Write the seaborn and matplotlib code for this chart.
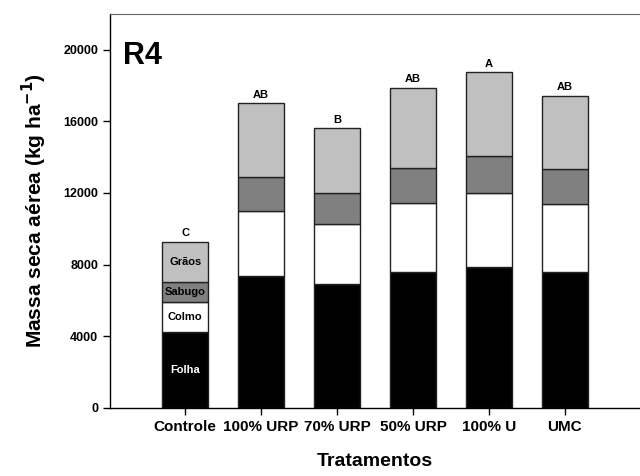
import numpy as np
import pandas as pd
import matplotlib
matplotlib.use("Agg")
import matplotlib.pyplot as plt
import seaborn as sns

# data (kg/ha, per plant fraction)
tratamentos = ["Controle", "100% URP", "70% URP", "50% URP", "100% U", "UMC"]
folha = [4260, 7340, 6930, 7600, 7890, 7600]
colmo = [1680, 3670, 3330, 3850, 4100, 3760]
sabugo = [1080, 1880, 1710, 1970, 2060, 1990]
graos = [2250, 4110, 3650, 4450, 4680, 4060]
letras = ["C", "AB", "B", "AB", "A", "AB"]

fracoes = ["Folha", "Colmo", "Sabugo", "Grãos"]
cores = ["#000000", "#ffffff", "#808080", "#c0c0c0"]
cor_texto = ["white", "black", "black", "black"]

df = pd.DataFrame({"Tratamento": tratamentos, "Folha": folha, "Colmo": colmo,
                   "Sabugo": sabugo, "Grãos": graos})

sns.set_style("ticks")
plt.rcParams["font.family"] = ["Liberation Sans", "DejaVu Sans"]
plt.rcParams["font.weight"] = "bold"
plt.rcParams.update({"text.color": "black", "axes.labelcolor": "black",
                     "xtick.color": "black", "ytick.color": "black"})

fig = plt.figure(figsize=(6.4, 4.76), dpi=100)
ax = fig.add_axes([0.172, 0.143, 0.828, 0.828])

base = np.zeros(len(tratamentos))
for nome, cor in zip(fracoes, cores):
    sns.barplot(data=df, x="Tratamento", y=nome, order=tratamentos, bottom=base,
                color=cor, width=0.6, edgecolor="#222222", linewidth=1.0,
                saturation=1, ax=ax)
    base = base + df[nome].to_numpy()

# fraction labels inside the Controle bar
base0 = 0
for nome, ct in zip(fracoes, cor_texto):
    v = df.loc[0, nome]
    ax.text(0, base0 + v / 2, nome, ha="center", va="center", fontsize=8,
            fontweight="bold", color=ct)
    base0 += v

# Tukey letters above bars
for i, (tot, let) in enumerate(zip(base, letras)):
    ax.text(i, tot + 200, let, ha="center", va="bottom", fontsize=8,
            fontweight="bold")

ax.set_xlim(-0.99, 5.99)
ax.set_ylim(0, 22000)
ax.set_yticks([0, 4000, 8000, 12000, 16000, 20000])
ax.tick_params(axis="y", labelsize=9, length=5, width=1)
ax.tick_params(axis="x", labelsize=11, length=5, width=1)
for lab in ax.get_xticklabels() + ax.get_yticklabels():
    lab.set_fontweight("bold")

ax.set_xlabel("Tratamentos", fontsize=14, fontweight="bold", labelpad=14)
ax.set_ylabel("Massa seca aérea (kg ha$^{\\mathbf{-1}}$)", fontsize=15,
              fontweight="bold", labelpad=10)

ax.text(0.025, 0.93, "R4", transform=ax.transAxes, fontsize=22,
        fontweight="bold", va="top", ha="left")

ax.spines["right"].set_visible(False)
ax.spines["top"].set_color("#666666")
for s in ["left", "bottom"]:
    ax.spines[s].set_color("black")
    ax.spines[s].set_linewidth(1)

fig.savefig("out.png", dpi=100)
